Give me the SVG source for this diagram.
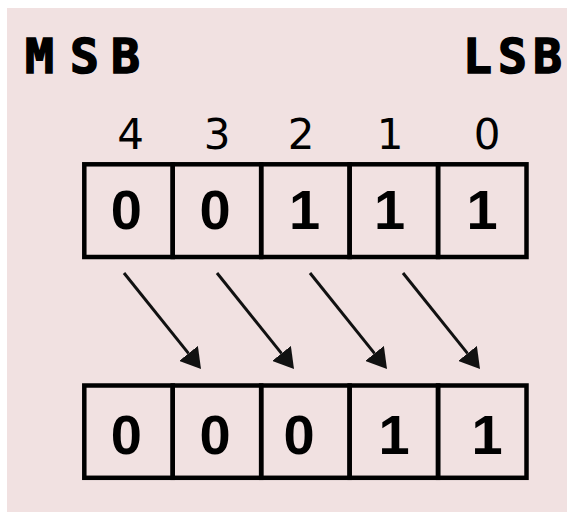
<svg xmlns="http://www.w3.org/2000/svg" width="567" height="512" viewBox="0 0 567 512">
  <defs>
    <style>
      .bg { fill: #f1e1e1; }
      .cell { fill: none; stroke: #000; stroke-width: 4.5; }
      .hdr { font-family: "DejaVu Sans Mono", "Liberation Mono", monospace; font-weight: bold; font-size: 48px; fill: #000; stroke: #000; stroke-width: 1.6; }
      .idx { font-family: "DejaVu Sans", "Liberation Sans", sans-serif; font-size: 42px; fill: #000; text-anchor: middle; }
      .bit { font-family: "Liberation Sans", Arial, sans-serif; font-weight: bold; font-size: 56px; fill: #000; text-anchor: middle; }
      .arrow { stroke: #111; stroke-width: 3; fill: none; marker-end: url(#head); }
    </style>
    <marker id="head" viewBox="0 0 20 24" refX="0" refY="12" markerWidth="20" markerHeight="24" markerUnits="userSpaceOnUse" orient="auto">
      <path d="M0,0 L20,12 L0,24 z" fill="#111"/>
    </marker>
  </defs>

  <rect class="bg" x="7" y="8" width="560" height="504"/>

  <g id="msb-label">
    <text class="hdr" x="25 70 111" y="73">MSB</text>
  </g>
  <g id="lsb-label">
    <text class="hdr" x="463 498 533" y="73">LSB</text>
  </g>

  <g id="bit-indices">
    <text class="idx" x="130.5" y="149">4</text>
    <text class="idx" x="217" y="149">3</text>
    <text class="idx" x="301" y="149">2</text>
    <text class="idx" x="390" y="149">1</text>
    <text class="idx" x="487" y="149">0</text>
  </g>

  <g id="register-before">
    <g id="before-bit4"><rect class="cell" x="84.3" y="164.3" width="88.44" height="92.7"/><text class="bit" x="126.4" y="229">0</text></g>
    <g id="before-bit3"><rect class="cell" x="172.74" y="164.3" width="88.44" height="92.7"/><text class="bit" x="215" y="229">0</text></g>
    <g id="before-bit2"><rect class="cell" x="261.18" y="164.3" width="88.44" height="92.7"/><text class="bit" x="304.5" y="229">1</text></g>
    <g id="before-bit1"><rect class="cell" x="349.62" y="164.3" width="88.44" height="92.7"/><text class="bit" x="389.5" y="229">1</text></g>
    <g id="before-bit0"><rect class="cell" x="438.06" y="164.3" width="88.44" height="92.7"/><text class="bit" x="482" y="229">1</text></g>
  </g>

  <g id="connectors">
    <path class="arrow" d="M124,273 L188.5,353.4"/>
    <path class="arrow" d="M217,273 L281.5,353.4"/>
    <path class="arrow" d="M310,273 L374.5,353.4"/>
    <path class="arrow" d="M403,273 L467.5,353.4"/>
  </g>

  <g id="register-after">
    <g id="after-bit4"><rect class="cell" x="84.3" y="385.5" width="88.44" height="92.3"/><text class="bit" x="126.4" y="454">0</text></g>
    <g id="after-bit3"><rect class="cell" x="172.74" y="385.5" width="88.44" height="92.3"/><text class="bit" x="215" y="454">0</text></g>
    <g id="after-bit2"><rect class="cell" x="261.18" y="385.5" width="88.44" height="92.3"/><text class="bit" x="299" y="454">0</text></g>
    <g id="after-bit1"><rect class="cell" x="349.62" y="385.5" width="88.44" height="92.3"/><text class="bit" x="394" y="454">1</text></g>
    <g id="after-bit0"><rect class="cell" x="438.06" y="385.5" width="88.44" height="92.3"/><text class="bit" x="487" y="454">1</text></g>
  </g>
</svg>
